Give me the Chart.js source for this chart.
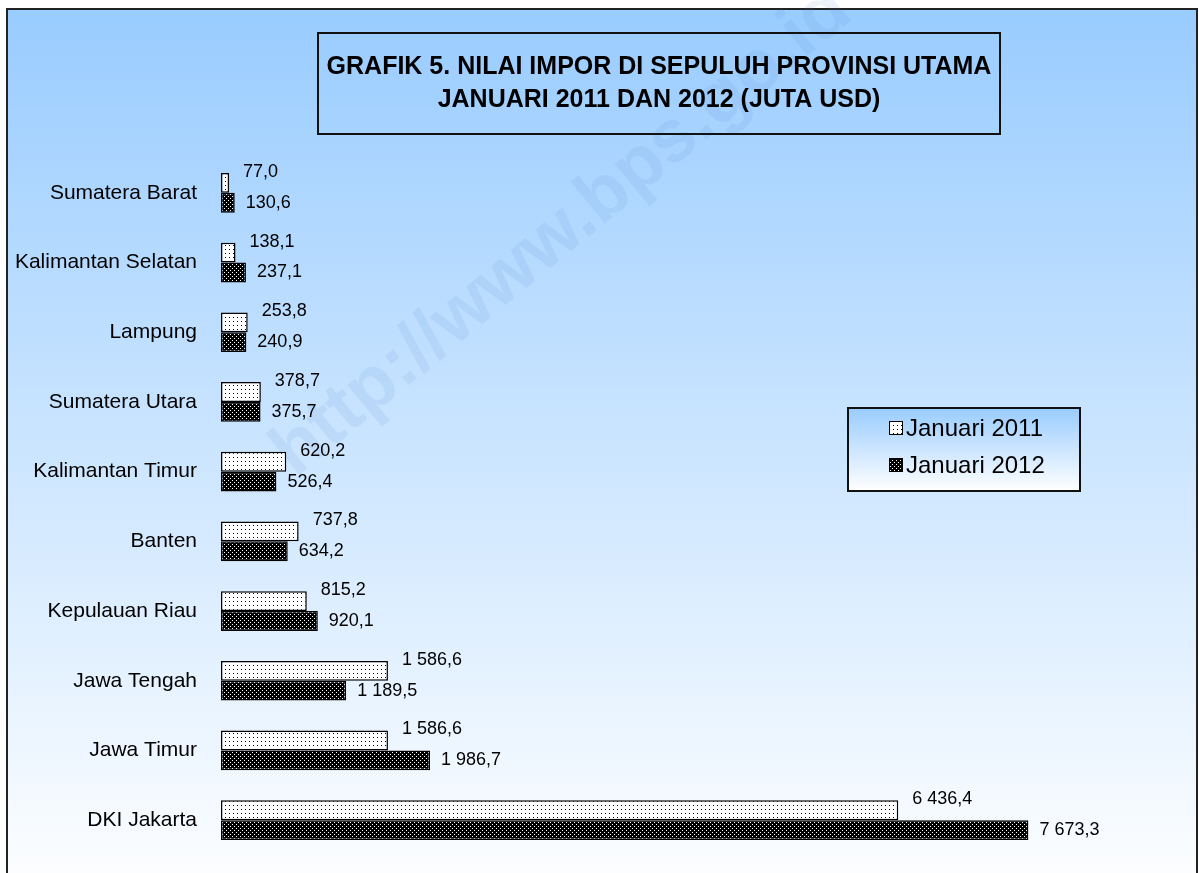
<!DOCTYPE html>
<html>
<head>
<meta charset="utf-8">
<script src="https://cdn.jsdelivr.net/npm/chart.js@4.4.1/dist/chart.umd.min.js"></script>
<style>
  html, body { margin: 0; padding: 0; background: #fff; }
  #wrap { width: 1199px; height: 873px; }
</style>
</head>
<body>
<div id="wrap"><canvas id="chart" width="1199" height="873"></canvas></div>
<script>
// ===== DATA =====
const provinces = ['Sumatera Barat', 'Kalimantan Selatan', 'Lampung', 'Sumatera Utara', 'Kalimantan Timur',
                   'Banten', 'Kepulauan Riau', 'Jawa Tengah', 'Jawa Timur', 'DKI Jakarta'];
const jan2011 = [77.0, 138.1, 253.8, 378.7, 620.2, 737.8, 815.2, 1586.6, 1586.6, 6436.4];
const jan2012 = [130.6, 237.1, 240.9, 375.7, 526.4, 634.2, 920.1, 1189.5, 1986.7, 7673.3];
const seriesNames = ['Januari 2011', 'Januari 2012'];
const titleLines = ['GRAFIK 5. NILAI IMPOR DI SEPULUH PROVINSI UTAMA', 'JANUARI 2011 DAN 2012 (JUTA USD)'];
const watermark = 'http://www.bps.go.id';

const FONT = '"Liberation Sans", Arial, sans-serif';

// ===== PATTERNS =====
function makePattern(bg, fg, dots, size) {
    const c = document.createElement('canvas');
    c.width = size; c.height = size;
    const g = c.getContext('2d');
    g.fillStyle = bg;
    g.fillRect(0, 0, size, size);
    g.fillStyle = fg;
    dots.forEach(([x, y]) => g.fillRect(x, y, 1, 1));
    return document.getElementById('chart').getContext('2d').createPattern(c, 'repeat');
}
const lightDots = makePattern('#ffffff', '#000000', [[1, 1], [5, 1], [1, 5], [5, 5]], 8);
const darkDots = makePattern('#000000', '#ffffff', [[0, 0], [2, 2]], 4);

function formatValue(v) {
    const parts = v.toFixed(1).split('.');
    const intPart = parts[0].replace(/\B(?=(\d{3})+(?!\d))/g, ' ');
    return intPart + ',' + parts[1];
}

// ===== BACKGROUND, TITLE, WATERMARK =====
const frame = {
    id: 'frame',
    beforeDraw(chart) {
        const ctx = chart.ctx;
        ctx.save();
        ctx.fillStyle = '#ffffff';
        ctx.fillRect(0, 0, chart.width, chart.height);
        const grad = ctx.createLinearGradient(0, 9, 0, 900);
        grad.addColorStop(0, '#99ccff');
        grad.addColorStop(1, '#ffffff');
        ctx.fillStyle = grad;
        ctx.fillRect(7, 9, 1190, 880);
        ctx.strokeStyle = '#222';
        ctx.lineWidth = 2;
        ctx.strokeRect(7, 9, 1190, 880);

        // watermark
        ctx.translate(562, 232);
        ctx.rotate(-Math.atan2(470, 570));
        ctx.font = 'bold 74px ' + FONT;
        ctx.textAlign = 'center';
        ctx.textBaseline = 'middle';
        ctx.fillStyle = 'rgba(80, 130, 200, 0.10)';
        ctx.fillText(watermark, 0, 0);
        ctx.restore();

        // title box
        ctx.save();
        ctx.strokeStyle = '#111';
        ctx.lineWidth = 2;
        ctx.strokeRect(318, 33, 682, 101);
        ctx.fillStyle = '#000';
        ctx.font = 'bold 25px ' + FONT;
        ctx.textAlign = 'center';
        ctx.textBaseline = 'middle';
        ctx.fillText(titleLines[0], 659, 67);
        ctx.fillText(titleLines[1], 659, 100);
        ctx.restore();
    }
};

// ===== DATA LABELS =====
const valueLabels = {
    id: 'valueLabels',
    afterDatasetsDraw(chart) {
        const ctx = chart.ctx;
        ctx.save();
        ctx.font = '18px ' + FONT;
        ctx.fillStyle = '#000';
        ctx.textAlign = 'left';
        ctx.textBaseline = 'middle';
        chart.data.datasets.forEach((ds, i) => {
            chart.getDatasetMeta(i).data.forEach((bar, j) => {
                const dx = i === 0 ? 14 : 11;
                const dy = i === 0 ? -11 : 0;
                ctx.fillText(formatValue(ds.data[j]), bar.x + dx, bar.y + dy);
            });
        });
        ctx.restore();
    }
};

// ===== LEGEND BOX =====
const legendBox = {
    id: 'legendBox',
    afterDraw(chart) {
        const ctx = chart.ctx;
        const x = 848, y = 408, w = 232, h = 83;
        ctx.save();
        const grad = ctx.createLinearGradient(0, y, 0, y + h);
        grad.addColorStop(0, '#99ccff');
        grad.addColorStop(1, '#ffffff');
        ctx.fillStyle = grad;
        ctx.fillRect(x, y, w, h);
        ctx.strokeStyle = '#111';
        ctx.lineWidth = 2;
        ctx.strokeRect(x, y, w, h);
        ctx.font = '24px ' + FONT;
        ctx.textAlign = 'left';
        ctx.textBaseline = 'middle';
        chart.data.datasets.forEach((ds, i) => {
            const cy = y + 20 + i * 37;
            ctx.fillStyle = ds.backgroundColor;
            ctx.fillRect(889, cy - 7, 14, 14);
            ctx.strokeStyle = '#000';
            ctx.lineWidth = 1;
            ctx.strokeRect(889.5, cy - 6.5, 13, 13);
            ctx.fillStyle = '#000';
            ctx.fillText(ds.label, 906, cy + 1);
        });
        ctx.restore();
    }
};

new Chart(document.getElementById('chart'), {
    type: 'bar',
    data: {
        labels: provinces,
        datasets: [{
            label: seriesNames[0],
            data: jan2011,
            backgroundColor: lightDots,
            borderColor: '#000',
            borderWidth: 1.5,
            borderSkipped: false
        }, {
            label: seriesNames[1],
            data: jan2012,
            backgroundColor: darkDots,
            borderColor: '#000',
            borderWidth: 1.5,
            borderSkipped: false
        }]
    },
    options: {
        responsive: false,
        animation: false,
        indexAxis: 'y',
        datasets: { bar: { categoryPercentage: 0.57, barPercentage: 1.0 } },
        layout: { padding: { top: 158, bottom: 18, left: 0, right: 31 } },
        plugins: {
            legend: { display: false },
            tooltip: { enabled: false },
            title: { display: false }
        },
        scales: {
            x: { display: false, min: 0, max: 9000 },
            y: {
                grid: { display: false },
                border: { display: false },
                ticks: { color: '#000', font: { family: FONT, size: 21 }, padding: 16 },
                afterFit: (scale) => {
                    scale.width = 221;
                    scale.paddingTop = 0;
                    scale.paddingBottom = 0;
                }
            }
        }
    },
    plugins: [frame, valueLabels, legendBox]
});
</script>
</body>
</html>
